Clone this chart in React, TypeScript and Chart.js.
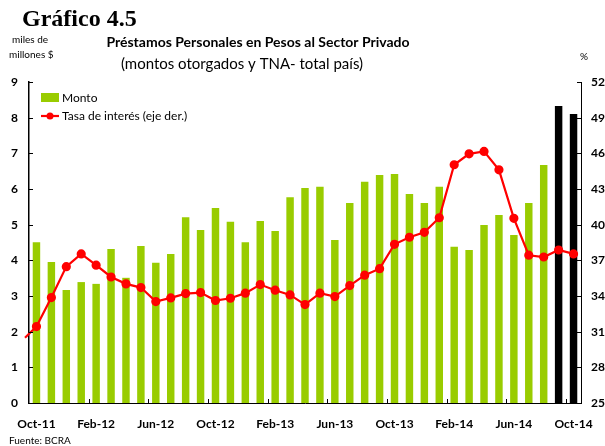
import React, { useEffect, useRef } from "react";
import { Chart, registerables } from "chart.js";

Chart.register(...registerables);

const months = [
  "Oct-11","Nov-11","Dec-11","Jan-12","Feb-12","Mar-12","Apr-12","May-12","Jun-12","Jul-12","Aug-12","Sep-12",
  "Oct-12","Nov-12","Dec-12","Jan-13","Feb-13","Mar-13","Apr-13","May-13","Jun-13","Jul-13","Aug-13","Sep-13",
  "Oct-13","Nov-13","Dec-13","Jan-14","Feb-14","Mar-14","Apr-14","May-14","Jun-14","Jul-14","Aug-14","Sep-14","Oct-14",
];

const monto = [
  4.51, 3.95, 3.17, 3.39, 3.34, 4.32, 3.51, 4.40, 3.93, 4.18, 5.21, 4.85,
  5.47, 5.08, 4.51, 5.10, 4.82, 5.77, 6.03, 6.06, 4.57, 5.61, 6.20, 6.39,
  6.42, 5.86, 5.61, 6.06, 4.38, 4.29, 4.99, 5.27, 4.71, 5.61, 6.67, 8.33, 8.10,
];

const tasa = [
  31.43, 33.87, 36.47, 37.54, 36.59, 35.60, 35.02, 34.71, 33.53, 33.84, 34.20, 34.29,
  33.62, 33.81, 34.24, 34.96, 34.49, 34.09, 33.28, 34.24, 33.95, 34.88, 35.75, 36.30,
  38.35, 38.94, 39.36, 40.58, 45.04, 45.96, 46.16, 44.61, 40.53, 37.43, 37.28, 37.87, 37.54,
];

// previous month (Sep-11), only visible as the segment entering the chart
const tasaPrev = 30.2;

// months shown in black (most recent data)
const recentMonths = ["Sep-14", "Oct-14"];

const GREEN = "#99CC00";
const RED = "#FF0000";
const FONT = "Lato, 'Open Sans', sans-serif";

const decorPlugin = {
  id: "decor",
  afterDatasetsDraw(chart: any) {
    const { ctx, chartArea } = chart;
    const x = chart.scales.x;
    const y1 = chart.scales.y1;
    const x0 = x.getPixelForValue(0);
    const step = x.getPixelForValue(1) - x0;
    const y0 = y1.getPixelForValue(tasa[0]);
    const yp = y1.getPixelForValue(tasaPrev);
    const xp = x0 - step;
    const clipX = chartArea.left - 4;
    const t = (x0 - clipX) / (x0 - xp);
    ctx.save();
    ctx.strokeStyle = RED;
    ctx.lineWidth = 2.2;
    ctx.beginPath();
    ctx.moveTo(x0, y0);
    ctx.lineTo(clipX, y0 + (yp - y0) * t);
    ctx.stroke();
    ctx.restore();
  },
  afterDraw(chart: any) {
    const { ctx, chartArea } = chart;
    const x = chart.scales.x;
    const y = chart.scales.y;
    const y1 = chart.scales.y1;
    ctx.save();
    ctx.strokeStyle = "#000";
    ctx.lineWidth = 1;
    const half = (x.getPixelForValue(1) - x.getPixelForValue(0)) / 2;
    for (let i = 4; i < months.length; i += 4) {
      const px = Math.round(x.getPixelForValue(i) - half) + 0.5;
      ctx.beginPath();
      ctx.moveTo(px, chartArea.bottom);
      ctx.lineTo(px, chartArea.bottom - 4);
      ctx.stroke();
    }
    y.ticks.forEach((tk: any) => {
      const py = Math.round(y.getPixelForValue(tk.value)) + 0.5;
      ctx.beginPath();
      ctx.moveTo(chartArea.left, py);
      ctx.lineTo(chartArea.left + 4, py);
      ctx.stroke();
    });
    y1.ticks.forEach((tk: any) => {
      const py = Math.round(y1.getPixelForValue(tk.value)) + 0.5;
      ctx.beginPath();
      ctx.moveTo(chartArea.right, py);
      ctx.lineTo(chartArea.right - 4, py);
      ctx.stroke();
    });

    ctx.fillStyle = "#000";
    ctx.textBaseline = "alphabetic";
    ctx.textAlign = "left";
    ctx.font = "bold 24px 'Liberation Serif', serif";
    ctx.fillText("Gráfico 4.5", 22, 26);

    ctx.textAlign = "center";
    ctx.font = `bold 14px ${FONT}`;
    ctx.fillText("Préstamos Personales en Pesos al Sector Privado", 258, 47);
    ctx.font = `15px ${FONT}`;
    ctx.fillText("(montos otorgados y TNA- total país)", 242, 69);

    ctx.textAlign = "left";
    ctx.font = `10px ${FONT}`;
    ctx.fillText("miles de", 12, 43);
    ctx.fillText("millones $", 9, 58);
    ctx.fillText("%", 580, 60);
    ctx.fillText("Fuente: BCRA", 9, 444);

    // legend
    ctx.fillStyle = GREEN;
    ctx.fillRect(41, 93, 18, 9);
    ctx.strokeStyle = RED;
    ctx.lineWidth = 2.2;
    ctx.beginPath();
    ctx.moveTo(41, 116);
    ctx.lineTo(59, 116);
    ctx.stroke();
    ctx.fillStyle = RED;
    ctx.beginPath();
    ctx.arc(50, 116, 3.5, 0, Math.PI * 2);
    ctx.fill();
    ctx.fillStyle = "#000";
    ctx.font = `12px ${FONT}`;
    ctx.fillText("Monto", 62, 102);
    ctx.fillText("Tasa de interés (eje der.)", 62, 120);
    ctx.restore();
  },
};

export default function App() {
  const ref = useRef<HTMLCanvasElement>(null);
  useEffect(() => {
    if (!ref.current) return;
    const barColors = months.map((m) => (recentMonths.includes(m) ? "#000000" : GREEN));
    const chart = new Chart(ref.current, {
      type: "bar",
      data: {
        labels: months,
        datasets: [
          {
            type: "line",
            label: "Tasa de interés (eje der.)",
            data: tasa,
            yAxisID: "y1",
            borderColor: RED,
            backgroundColor: RED,
            borderWidth: 2.2,
            pointRadius: 3.5,
            pointBackgroundColor: RED,
            pointBorderColor: RED,
            tension: 0,
            order: 0,
          } as any,
          {
            type: "bar",
            label: "Monto",
            data: monto,
            yAxisID: "y",
            backgroundColor: barColors,
            barPercentage: 1,
            categoryPercentage: 0.5,
            order: 1,
          },
        ],
      },
      options: {
        responsive: false,
        animation: false,
        layout: { padding: { top: 82, left: 0, right: 0, bottom: 0 } },
        plugins: { legend: { display: false }, tooltip: { enabled: false } },
        scales: {
          x: {
            offset: true,
            grid: { display: false, offset: true, drawTicks: false },
            border: { display: true, color: "#000", width: 1 },
            afterFit: (s: any) => {
              s.paddingLeft = 0;
              s.paddingRight = 0;
              s.height = 43;
            },
            ticks: {
              autoSkip: false,
              maxRotation: 0,
              padding: 14,
              color: "#000",
              font: { family: FONT, size: 12, weight: "bold" },
              callback: (_v: any, i: number) => (i % 4 === 0 ? months[i] : null),
            },
          },
          y: {
            position: "left",
            min: 0,
            max: 9,
            grid: { display: false, drawTicks: false },
            border: { display: true, color: "#000", width: 1.5 },
            afterFit: (s: any) => {
              s.paddingTop = 0;
              s.paddingBottom = 0;
              s.width = 29;
            },
            ticks: {
              stepSize: 1,
              padding: 11,
              color: "#000",
              font: { family: FONT, size: 12, weight: "bold" },
            },
          },
          y1: {
            position: "right",
            min: 25,
            max: 52,
            grid: { display: false, drawTicks: false },
            border: { display: true, color: "#000", width: 1 },
            afterFit: (s: any) => {
              s.paddingTop = 0;
              s.paddingBottom = 0;
              s.width = 24;
            },
            ticks: {
              stepSize: 3,
              padding: 10,
              color: "#000",
              font: { family: FONT, size: 12, weight: "bold" },
            },
          },
        },
      },
      plugins: [decorPlugin],
    });
    return () => chart.destroy();
  }, []);
  return (
    <div style={{ position: "absolute", left: 0, top: 0, width: 605, height: 446, background: "#fff" }}>
      <canvas ref={ref} width={605} height={446} />
    </div>
  );
}
